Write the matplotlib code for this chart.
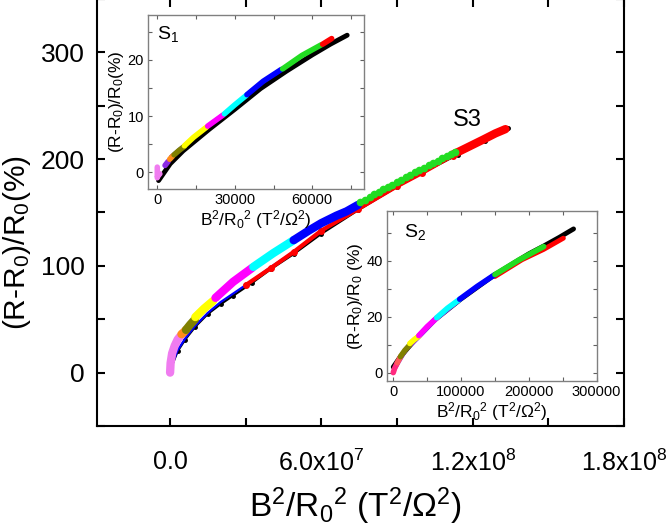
import numpy as np
import matplotlib
matplotlib.use("Agg")
import matplotlib.pyplot as plt
from matplotlib.ticker import MultipleLocator, FixedLocator

plt.rcParams['font.family'] = ['Liberation Sans', 'DejaVu Sans']
plt.rcParams['mathtext.fontset'] = 'custom'
plt.rcParams['mathtext.rm'] = 'Liberation Sans'
plt.rcParams['mathtext.default'] = 'regular'

# colours of the field sweeps
PINK = '#f07cf0'
PURPLE = '#8a2be2'
ORANGE = '#ff8c1a'
OLIVE = '#808000'
YELLOW = '#ffff00'
MAGENTA = '#ff00ff'
CYAN = '#00ffff'
BLUE = '#0000ff'
GREEN = '#22dd22'
RED = '#ff0000'
BLACK = '#000000'

# ---- S3 (main panel), x in units of 1e7 T^2/Ohm^2, y in %
s3_pink_x = [0.0, 0.02, 0.08, 0.18, 0.30, 0.40]
s3_pink_y = [0, 9, 18, 25, 31, 34]
s3_orange_x = [0.45, 0.55, 0.63]
s3_orange_y = [36, 38, 40]
s3_olive_x = [0.63, 0.80, 0.99]
s3_olive_y = [40, 45, 50]
s3_yellow_x = [1.00, 1.35, 1.70]
s3_yellow_y = [52, 60, 67]
s3_magenta_x = [1.80, 2.50, 3.25]
s3_magenta_y = [70, 85, 98]
s3_cyan_x = [3.30, 4.10, 4.90]
s3_cyan_y = [99, 112, 124]
s3_blue_x = [4.90, 5.50, 6.00, 6.60, 7.00, 7.45]
s3_blue_y = [124, 133, 140, 147, 151, 157]
s3_green_x = [7.55, 7.73, 7.91, 8.09, 8.27, 8.45, 8.63, 8.81, 8.99, 9.17, 9.35,
              9.53, 9.71, 9.89, 10.07, 10.25, 10.43, 10.61, 10.79, 10.97, 11.15, 11.30]
s3_green_y = [159.5, 162.0, 164.4, 166.8, 169.2, 171.5, 173.8, 176.1, 178.4, 180.7, 183.0,
              185.2, 187.5, 189.7, 191.9, 194.1, 196.3, 198.5, 200.7, 202.8, 205.0, 206.8]
s3_red_x = [3.0, 4.0, 4.9, 6.0, 7.45, 9.0, 10.0, 11.2]
s3_red_y = [82, 98, 113, 133, 153, 174.5, 187, 203]
s3_redend_x = [11.2, 11.8, 12.4, 12.9, 13.3]
s3_redend_y = [204, 211, 218, 224, 228]
s3_black_x = [0.05, 0.3, 0.6, 1.0, 1.5, 2.0, 2.5, 3.25, 4.0, 4.9, 6.0, 7.45, 9.0, 10.0, 11.4, 12.5, 13.4]
s3_black_y = [5, 20, 31, 43, 55, 64, 72, 84, 97, 111, 130, 152, 174, 187, 204, 217, 229.5]
s3_bluelow_x = [0.1, 0.3, 0.6, 1.0, 1.5, 2.0, 2.5, 3.25, 4.0, 4.9]
s3_bluelow_y = [9, 21, 32, 44, 56, 66, 74, 86, 99, 113]

# ---- S1 inset
s1_black_x = [500, 5000, 10000, 20000, 30000, 40000, 50000, 60000, 67000, 73500]
s1_black_y = [-1.5, 1.5, 3.8, 7.6, 11.2, 14.9, 18.0, 20.9, 22.8, 24.4]
s1_bluethin_x = [5000, 12000, 20000, 28000, 35000, 48000]
s1_bluethin_y = [2.9, 5.6, 8.6, 11.4, 14.0, 18.4]
s1_pink_x = [0, 0, 300, 1000]
s1_pink_y = [0.9, -1.0, -0.6, -0.3]
s1_purple_x = [3000, 4200]
s1_purple_y = [1.2, 1.9]
s1_orange_x = [4800, 6000]
s1_orange_y = [2.3, 2.9]
s1_olive_x = [6500, 8500, 10500]
s1_olive_y = [3.1, 3.9, 4.6]
s1_yellow_x = [10500, 14000, 19000]
s1_yellow_y = [4.7, 6.2, 8.0]
s1_magenta_x = [19500, 22500, 25500]
s1_magenta_y = [8.2, 9.2, 10.2]
s1_cyan_x = [26000, 30000, 34500]
s1_cyan_y = [10.4, 12.0, 13.7]
s1_blue_x = [34700, 41000, 48000]
s1_blue_y = [13.8, 16.2, 18.3]
s1_green_x = [48500, 56000, 63500]
s1_green_y = [18.4, 20.8, 22.7]
s1_red_x = [64000, 67500]
s1_red_y = [22.8, 23.8]

# ---- S2 inset
s2_black_x = [0, 10000, 30000, 60000, 100000, 150000, 200000, 222000, 245000, 266000]
s2_black_y = [2.0, 5.5, 11.2, 18.6, 26.3, 35.0, 42.4, 45.2, 48.3, 51.3]
s2_red_x = [150000, 190000, 222000, 251000]
s2_red_y = [34.3, 40.3, 44.0, 48.0]
s2_violet_x = [2000, 20000, 40000, 64000, 98000]
s2_violet_y = [0.5, 7.8, 12.6, 18.6, 25.3]
s2_pink_x = [0, 2000, 6000]
s2_pink_y = [0.0, 1.5, 3.5]
s2_orange_x = [6000, 10600]
s2_orange_y = [3.5, 5.6]
s2_olive_x = [10600, 17000, 24400]
s2_olive_y = [5.7, 7.9, 9.9]
s2_yellow_x = [24400, 31000, 37700]
s2_yellow_y = [10.4, 11.8, 13.0]
s2_magenta_x = [37700, 50000, 64000]
s2_magenta_y = [13.2, 16.4, 19.5]
s2_cyan_x = [64000, 80000, 98000]
s2_cyan_y = [19.6, 23.0, 26.2]
s2_blue_x = [98000, 124000, 150000]
s2_blue_y = [26.2, 30.8, 35.0]
s2_green_x = [150000, 186000, 222000]
s2_green_y = [35.0, 40.3, 45.0]

main_xticks = [0, 6e7, 1.2e8, 1.8e8]
main_xticklabels = ['0.0', r'6.0x10$^{7}$', r'1.2x10$^{8}$', r'1.8x10$^{8}$']

XLABEL = r'B$^{2}$/R$_{0}$$^{2}$ (T$^{2}$/$\Omega^{2}$)'


def band(ax, xs, ys, color, lw, z, scale=1.0):
    xs = np.asarray(xs) * scale
    ax.plot(xs, ys, color=color, lw=lw, solid_capstyle='round',
            solid_joinstyle='round', zorder=z)


fig = plt.figure(figsize=(6.66, 5.3), dpi=100)

# ================= main axes (S3)
ax = fig.add_axes([0.1456, 0.1962, 0.7913, 0.806])
E7 = 1e7
band(ax, s3_black_x, s3_black_y, BLACK, 1.6, 2, E7)
ax.plot(np.asarray(s3_black_x) * E7, s3_black_y, 'o', color=BLACK, ms=2.5, zorder=2)
band(ax, s3_bluelow_x, s3_bluelow_y, BLUE, 1.6, 3, E7)
band(ax, s3_red_x, s3_red_y, RED, 3, 3, E7)
ax.plot(np.asarray(s3_red_x) * E7, s3_red_y, 'o', color=RED, ms=4, zorder=3)
band(ax, s3_redend_x, s3_redend_y, RED, 6, 4, E7)
band(ax, s3_pink_x, s3_pink_y, PINK, 6, 5, E7)
band(ax, s3_orange_x, s3_orange_y, ORANGE, 6, 5, E7)
band(ax, s3_olive_x, s3_olive_y, OLIVE, 6, 5, E7)
band(ax, s3_yellow_x, s3_yellow_y, YELLOW, 6, 5, E7)
band(ax, s3_magenta_x, s3_magenta_y, MAGENTA, 6, 5, E7)
band(ax, s3_cyan_x, s3_cyan_y, CYAN, 6, 5, E7)
band(ax, s3_blue_x, s3_blue_y, BLUE, 6, 5, E7)
ax.plot(np.asarray(s3_green_x) * E7, s3_green_y, 'o', color=GREEN, ms=4.5, zorder=5)

ax.text(1.177e8, 237, 'S3', fontsize=17, ha='center', va='center')

ax.set_xlim(-2.9e7, 1.8e8)
ax.set_ylim(-50, 350)
ax.xaxis.set_major_locator(FixedLocator(main_xticks))
ax.set_xticklabels(main_xticklabels)
ax.xaxis.set_minor_locator(MultipleLocator(3e7))
ax.yaxis.set_major_locator(FixedLocator([0, 100, 200, 300]))
ax.yaxis.set_minor_locator(MultipleLocator(50))
ax.tick_params(which='both', direction='in', top=True, right=True, length=6, width=1.5)
ax.tick_params(axis='x', which='major', labelsize=18, pad=17)
ax.tick_params(axis='y', which='major', labelsize=19, pad=9)
for s in ax.spines.values():
    s.set_linewidth(1.5)
ax.set_xlabel(XLABEL, fontsize=24)
ax.xaxis.set_label_coords(0.49, -0.14)
ax.set_ylabel(r'(R-R$_{0}$)/R$_{0}$(%)', fontsize=21.5)
ax.yaxis.set_label_coords(-0.122, 0.43)


def style_inset(a):
    for s in a.spines.values():
        s.set_color('#808080')
        s.set_linewidth(1.0)
    a.tick_params(which='both', direction='in', top=True, right=True, length=3,
                  width=0.8, color='#606060', labelsize=10.5, pad=3)


# ================= S1 inset
a1 = fig.add_axes([0.2222, 0.6434, 0.3243, 0.3283])
band(a1, s1_black_x, s1_black_y, BLACK, 3.5, 2)
band(a1, s1_bluethin_x, s1_bluethin_y, BLUE, 1.2, 3)
band(a1, s1_pink_x, s1_pink_y, PINK, 4, 4)
band(a1, s1_purple_x, s1_purple_y, PURPLE, 4, 4)
band(a1, s1_orange_x, s1_orange_y, ORANGE, 4, 4)
band(a1, s1_olive_x, s1_olive_y, OLIVE, 4, 4)
band(a1, s1_yellow_x, s1_yellow_y, YELLOW, 4, 4)
band(a1, s1_magenta_x, s1_magenta_y, MAGENTA, 4, 4)
band(a1, s1_cyan_x, s1_cyan_y, CYAN, 4, 4)
band(a1, s1_blue_x, s1_blue_y, BLUE, 4, 4)
band(a1, s1_green_x, s1_green_y, GREEN, 4, 4)
band(a1, s1_red_x, s1_red_y, RED, 4, 4)
a1.set_xlim(-3600, 80000)
a1.set_ylim(-3, 28)
a1.xaxis.set_major_locator(FixedLocator([0, 30000, 60000]))
a1.xaxis.set_minor_locator(MultipleLocator(15000))
a1.yaxis.set_major_locator(FixedLocator([0, 10, 20]))
a1.yaxis.set_minor_locator(MultipleLocator(5))
style_inset(a1)
a1.set_xlabel(XLABEL, fontsize=12.5, labelpad=1)
a1.set_ylabel(r'(R-R$_{0}$)/R$_{0}$(%)', fontsize=12.5, labelpad=1)
a1.text(0.093, 0.89, r'S$_{1}$', transform=a1.transAxes, fontsize=14, ha='center', va='center')

# ================= S2 inset
a2 = fig.add_axes([0.5811, 0.2811, 0.3147, 0.3208])
band(a2, s2_black_x, s2_black_y, BLACK, 3.5, 2)
band(a2, s2_red_x, s2_red_y, RED, 3.5, 3)
band(a2, s2_violet_x, s2_violet_y, PURPLE, 1.2, 3)
band(a2, s2_pink_x, s2_pink_y, '#ff2a7f', 4, 4)
band(a2, s2_orange_x, s2_orange_y, '#ff5a5a', 4, 4)
band(a2, s2_olive_x, s2_olive_y, OLIVE, 4, 4)
band(a2, s2_yellow_x, s2_yellow_y, YELLOW, 4, 4)
band(a2, s2_magenta_x, s2_magenta_y, MAGENTA, 4, 4)
band(a2, s2_cyan_x, s2_cyan_y, CYAN, 4, 4)
band(a2, s2_blue_x, s2_blue_y, BLUE, 4, 4)
band(a2, s2_green_x, s2_green_y, GREEN, 4, 4)
a2.set_xlim(-9200, 300000)
a2.set_ylim(-3, 57.7)
a2.xaxis.set_major_locator(FixedLocator([0, 100000, 200000, 300000]))
a2.xaxis.set_minor_locator(MultipleLocator(50000))
a2.yaxis.set_major_locator(FixedLocator([0, 20, 40]))
a2.yaxis.set_minor_locator(MultipleLocator(10))
style_inset(a2)
a2.set_xlabel(XLABEL, fontsize=12.5, labelpad=1)
a2.set_ylabel(r'(R-R$_{0}$)/R$_{0}$ (%)', fontsize=12.5, labelpad=1)
a2.text(0.134, 0.876, r'S$_{2}$', transform=a2.transAxes, fontsize=14, ha='center', va='center')

fig.savefig('out.png', dpi=100)
